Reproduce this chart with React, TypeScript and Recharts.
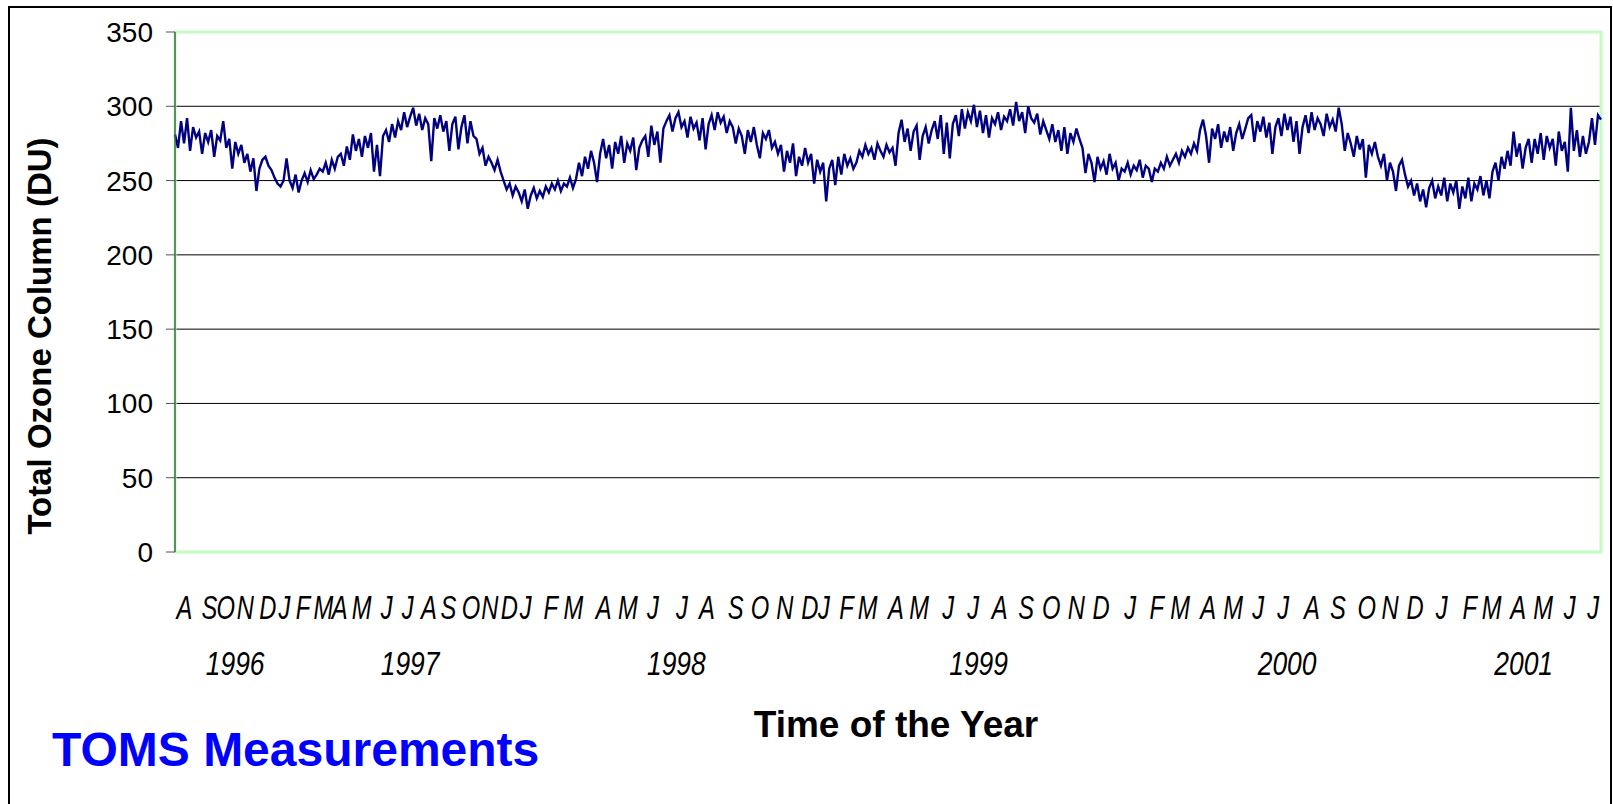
import { CartesianGrid, Line, LineChart, ReferenceArea, XAxis, YAxis } from "recharts";

// Total ozone (DU), roughly one value every few days from Aug 1996 to Jul 2001
const ozone = [
  281, 272, 290,
  275, 292, 270, 286, 279,
  283, 268, 282, 276, 284, 266, 280, 277, 290,
  272, 278, 258, 276, 268, 274,
  262, 268, 256, 265, 243,
  258, 264, 266, 260, 257,
  252, 248, 246, 250, 265,
  250, 245, 254, 242, 250,
  255, 249, 257, 251, 254, 258,
  256, 262, 254, 264, 258, 266,
  268, 260, 273, 264, 281,
  270, 278, 266, 280, 272, 282, 256, 274,
  253, 280, 284, 276, 288, 279,
  290, 284, 296, 286, 293, 299,
  287, 295, 284, 292, 288, 263,
  292, 285, 294, 283, 290, 270, 288, 293, 271, 286,
  294, 275, 290, 280,
  278, 268, 272, 260, 266,
  262, 257, 264, 256,
  250, 244, 248, 240, 246, 242,
  236, 244, 231, 240, 245, 238, 243, 239, 246,
  242, 248, 244, 250, 243, 248, 246, 252, 245,
  251, 262, 253, 266, 258, 270,
  262, 249, 268, 278,
  265, 274, 258, 276, 268, 280, 262, 275, 270, 279, 257, 272, 277,
  280, 266, 287, 274, 283, 262, 285, 290, 294,
  283, 292, 296, 286, 290, 279, 293, 285, 289, 277, 292, 271,
  288, 294, 284, 296, 289, 293, 282, 290, 286, 275,
  285, 280, 268, 284, 276, 286, 274, 265, 282, 278, 284, 272, 276,
  268, 274, 256, 270, 262, 275, 253, 266, 260, 272, 262, 268, 248,
  264, 256, 262, 236, 258,
  264, 247, 266, 254, 268, 260, 265, 258,
  262, 270, 266, 274, 268, 272, 264, 275, 270, 266, 274, 269, 272,
  260, 282, 291,
  276, 285, 270, 283, 287, 264, 280, 286, 275, 284,
  290, 278, 294, 268, 289, 265,
  288, 294, 280, 298, 285, 296, 290, 301,
  286, 297, 282, 294, 279, 292, 288, 296, 284, 293, 290,
  298, 287, 303, 290, 296, 282, 300, 292, 289,
  295, 281, 290, 284, 278,
  288, 276, 284, 270, 286, 268, 282, 276, 285, 278,
  272, 255, 268, 262,
  249, 266, 258, 263, 254, 268, 258, 262, 250, 258,
  256, 262, 254, 260, 257, 264, 252, 260, 258,
  249, 258,
  256, 262, 258, 266, 260, 264, 268, 262, 270, 266, 272, 268, 275, 270,
  284, 291, 280, 262,
  285, 278, 288, 272, 283, 276, 286, 270, 282, 288, 278, 285, 292,
  294, 276, 290, 283, 293, 279, 289, 268, 286, 292, 280,
  295, 284, 293, 276, 290, 268, 286, 294, 282,
  296, 284, 292, 288, 280, 295, 286, 291, 283, 299,
  288, 270, 282,
  275, 266, 280, 271, 278, 252, 274, 268, 276, 266,
  260, 268, 250, 262, 256, 243, 260, 264,
  254, 246, 250, 240, 248, 236, 244, 232, 245,
  250, 238, 246, 240, 252, 236, 248, 242, 250, 231,
  246, 238, 252, 236, 248, 244, 253, 240, 250, 238,
  256, 262, 250, 266, 258,
  270, 260, 283, 266, 275, 258, 272, 278, 262,
  278, 268, 282, 264, 280, 272, 278, 260, 283, 270, 276,
  256, 299,
  270, 284, 266, 280, 268, 276,
  292, 274, 294, 291,
];

const SPAN_DAYS = 1826;

const monthLetters = [
  "A", "S", "O", "N", "D",
  "J", "F", "M", "A", "M", "J", "J", "A", "S", "O", "N", "D",
  "J", "F", "M", "A", "M", "J", "J", "A", "S", "O", "N", "D",
  "J", "F", "M", "A", "M", "J", "J", "A", "S", "O", "N", "D",
  "J", "F", "M", "A", "M", "J", "J", "A", "S", "O", "N", "D",
  "J", "F", "M", "A", "M", "J", "J",
];
// where each month letter sits, in days from the start of the series
const monthTickDays = [
  12, 44, 65, 90, 119,
  140, 164, 190, 211, 239, 271, 298, 325, 350, 379, 403, 428,
  449, 481, 510, 549, 580, 612, 649, 681, 718, 749, 781, 813,
  831, 860, 887, 923, 953, 990, 1022, 1056, 1090, 1122, 1154, 1186,
  1223, 1257, 1287, 1323, 1355, 1387, 1419, 1456, 1489, 1526, 1556, 1588,
  1622, 1658, 1686, 1720, 1752, 1786, 1816,
];
const yearLabels = ["1996", "1997", "1998", "1999", "2000", "2001"];
const yearTickDays = [77, 301, 642, 1029, 1424, 1727];
const yTicks = [0, 50, 100, 150, 200, 250, 300, 350];

const data = ozone.map((du, i) => ({ day: (i * SPAN_DAYS) / (ozone.length - 1), du }));
const timeTicks = [...monthTickDays, ...yearTickDays].sort((a, b) => a - b);

const FONT = "'Liberation Sans', Arial, Helvetica, sans-serif";

function TimeTick({ x, y, payload }: any) {
  const v = payload.value;
  const yi = yearTickDays.indexOf(v);
  const isYear = yi >= 0;
  const label = isYear ? yearLabels[yi] : monthLetters[monthTickDays.indexOf(v)];
  return (
    <text
      transform={`translate(${x},${y + (isYear ? 123 : 67)}) scale(${isYear ? 0.8 : 0.72},1)`}
      textAnchor="middle"
      fontFamily={FONT}
      fontStyle="italic"
      fontSize={33}
      fill="#000"
    >
      {label}
    </text>
  );
}

export default function App() {
  return (
    <div
      style={{
        position: "absolute",
        left: 0,
        top: 0,
        width: 1613,
        height: 804,
        overflow: "hidden",
        background: "#fff",
        fontFamily: FONT,
      }}
    >
      <div
        style={{
          position: "absolute",
          left: 8,
          top: 6,
          width: 1600,
          height: 900,
          border: "2px solid #000",
        }}
      />
      <LineChart
        width={1613}
        height={804}
        data={data}
        margin={{ top: 32, right: 12, bottom: 122, left: 95 }}
        style={{ position: "absolute", left: 0, top: 0 }}
      >
        <CartesianGrid vertical={false} stroke="#000" strokeWidth={1} />
        <ReferenceArea
          x1={0}
          x2={SPAN_DAYS}
          y1={0}
          y2={350}
          fill="none"
          stroke="#c4fcc4"
          strokeWidth={3}
          ifOverflow="visible"
        />
        <XAxis
          type="number"
          dataKey="day"
          domain={[0, SPAN_DAYS]}
          ticks={timeTicks}
          interval={0}
          height={130}
          axisLine={false}
          tickLine={false}
          tickSize={0}
          tickMargin={0}
          tick={<TimeTick />}
        />
        <YAxis
          domain={[0, 350]}
          ticks={yTicks}
          width={80}
          axisLine={{ stroke: "#3d6b3d", strokeWidth: 1.5 }}
          tickLine={{ stroke: "#555" }}
          tickSize={9}
          tickMargin={13}
          tick={{ fill: "#000", fontSize: 28, fontFamily: FONT }}
        />
        <Line
          type="linear"
          dataKey="du"
          stroke="#000080"
          strokeWidth={2.4}
          dot={false}
          isAnimationActive={false}
        />
      </LineChart>
      <div
        style={{
          position: "absolute",
          left: 40 - 260,
          top: 336 - 20,
          width: 520,
          height: 40,
          lineHeight: "40px",
          textAlign: "center",
          transform: "rotate(-90deg)",
          fontWeight: "bold",
          fontSize: 33,
          color: "#000",
        }}
      >
        Total Ozone Column (DU)
      </div>
      <div
        style={{
          position: "absolute",
          left: 896 - 250,
          top: 703,
          width: 500,
          textAlign: "center",
          fontWeight: "bold",
          fontSize: 37,
          lineHeight: "44px",
          color: "#000",
        }}
      >
        Time of the Year
      </div>
      <div
        style={{
          position: "absolute",
          left: 52,
          top: 722,
          fontWeight: "bold",
          fontSize: 48,
          lineHeight: "56px",
          color: "#0000ff",
        }}
      >
        TOMS Measurements
      </div>
    </div>
  );
}
